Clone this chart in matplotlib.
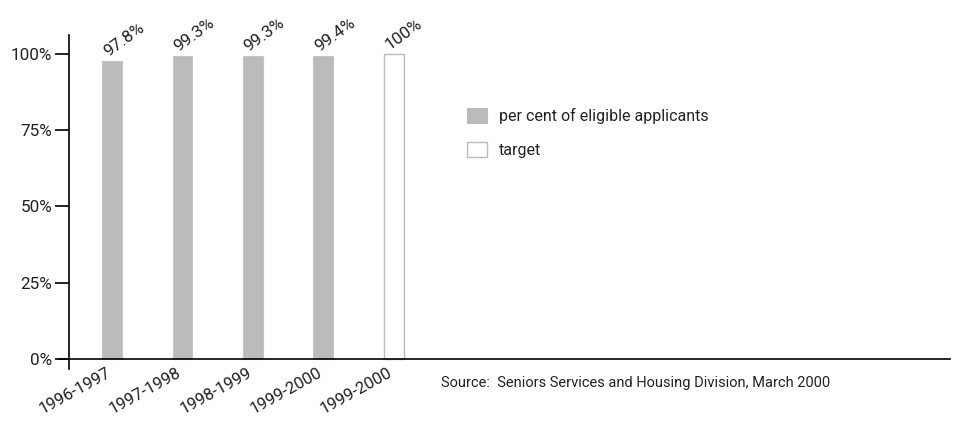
import matplotlib
matplotlib.use("Agg")
import matplotlib.pyplot as plt
from matplotlib.patches import Patch
from matplotlib.transforms import ScaledTranslation

plt.rcParams['font.family'] = ['Roboto', 'DejaVu Sans']

# Data
periods = ["1996-1997", "1997-1998", "1998-1999", "1999-2000", "1999-2000"]
applicants_pct = [97.8, 99.3, 99.3, 99.4]
target_pct = [100]
y_ticks = [0, 25, 50, 75, 100]
y_tick_labels = ["0%", "25%", "50%", "75%", "100%"]
legend_labels = ["per cent of eligible applicants", "target"]
source_text = "Source:  Seniors Services and Housing Division, March 2000"

grey = "#bbbbbb"
text_col = "#222222"
fs = 12

fig = plt.figure(figsize=(9.7, 4.22), dpi=100)
ax = fig.add_axes([0.0711, 0.1256, 0.9079, 0.7914])

bar_w = 0.28
xs_app = list(range(len(applicants_pct)))
xs_tgt = [len(applicants_pct) + i for i in range(len(target_pct))]

ax.bar(xs_app, applicants_pct, width=bar_w, color=grey, edgecolor="#c4c4c4", linewidth=0.8)
ax.bar(xs_tgt, target_pct, width=bar_w, color="white", edgecolor=grey, linewidth=1.0)

# Value labels above the bars
for x, v in zip(xs_app + xs_tgt, applicants_pct + target_pct):
    label = f"{v:g}%"
    ax.text(x - 0.06, v + 1.4, label, rotation=36, rotation_mode="anchor",
            ha="left", va="baseline", fontsize=12.3, color=text_col)

ax.set_xlim(-0.61, 11.89)
ax.set_ylim(-3.4, 106.3)

ax.spines["top"].set_visible(False)
ax.spines["right"].set_visible(False)
ax.spines["bottom"].set_position(("data", 0))
ax.spines["left"].set_linewidth(1.2)
ax.spines["bottom"].set_linewidth(1.2)

ax.set_yticks(y_ticks)
ax.set_yticklabels(y_tick_labels, fontsize=12.3, color=text_col)
ax.tick_params(axis="y", length=10, width=1.2, pad=2)

ax.set_xticks(xs_app + xs_tgt)
ax.set_xticklabels(periods, rotation=29, ha="right", rotation_mode="anchor",
                   fontsize=fs, color=text_col)
ax.tick_params(axis="x", length=0, pad=4.5)
shift = ScaledTranslation(-6 / 100, 0, fig.dpi_scale_trans)
for lbl in ax.get_xticklabels():
    lbl.set_transform(lbl.get_transform() + shift)

# Extend the baseline to the left under the 0% tick
ax.plot([-0.61 - 10 / 70.5, -0.61], [0, 0], color="black", lw=1.2, clip_on=False)

handles = [Patch(facecolor=grey, edgecolor=grey, linewidth=0.8),
           Patch(facecolor="white", edgecolor=grey, linewidth=1.0)]
fig.legend(handles, legend_labels, loc="upper left", bbox_to_anchor=(0.467, 0.779),
           frameon=False, fontsize=11.5, handlelength=1.25, handleheight=1.15,
           handletextpad=0.75, labelspacing=1.1, labelcolor=text_col)

fig.text(441 / 970, 1 - 383 / 422, source_text, fontsize=10.5, color=text_col,
         ha="left", va="center")

fig.savefig("out.png", dpi=100)
